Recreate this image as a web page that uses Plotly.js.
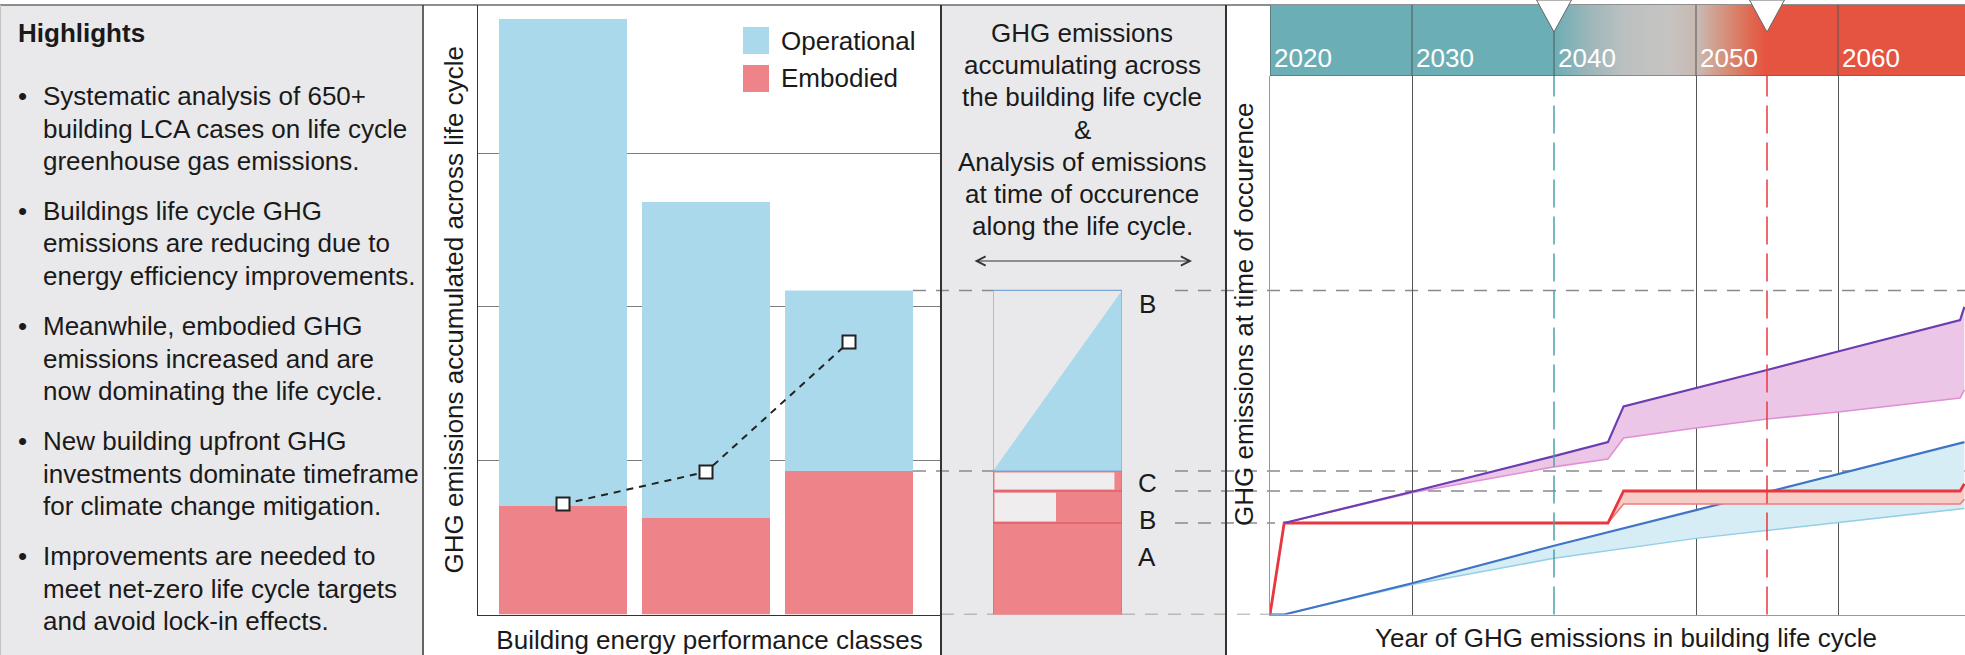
<!DOCTYPE html>
<html><head><meta charset="utf-8">
<script src="https://cdn.plot.ly/plotly-3.0.1.min.js"></script>
<style>html,body{margin:0;padding:0;background:#fff}#chart{width:1965px;height:655px}</style>
</head><body><div id="chart"></div>
<script>
// ---------------- DATA ----------------
// Panel 1: bars by building energy performance class
const classes = ['Class 1', 'Class 2', 'Class 3'];
const embodied = [0.705, 0.627, 0.933];
const operational = [3.167, 2.055, 1.174];
const embodiedTrend = [0.718, 0.927, 1.772];
const seriesNames = ['Operational', 'Embodied'];

// Panel 2: decomposition of the last class
const bandNames = ['A', 'B', 'C'];
const bandTop = [0.595, 0.803, 0.933];
const bandNotYetEmitted = [0, 0.5, 0.953];

// Panel 3: emissions at time of occurrence
const decades = [2020, 2030, 2040, 2050, 2060];
const decadeLabels = ['2020', '2030', '2040', '2050', '2060'];
const milestones = [2040, 2055];

const opYears = [2020, 2021, 2030, 2040, 2050, 2060, 2068.9];
const opUpper = [0, 0, 0.203, 0.447, 0.679, 0.911, 1.121];
const opLower = [0, 0, 0.195, 0.365, 0.495, 0.600, 0.690];

const embYears = [2020, 2021, 2043.8, 2044.9, 2068.6, 2068.9];
const embUpper = [0, 0.595, 0.595, 0.803, 0.803, 0.850];
const embLower = [0, 0.595, 0.595, 0.718, 0.718, 0.750];

const totYears = [2021, 2030, 2040, 2043.8, 2044.9, 2050, 2055, 2060, 2068.6, 2068.9];
const totUpper = [0.595, 0.798, 1.030, 1.121, 1.353, 1.471, 1.590, 1.710, 1.915, 2.000];
const totLower = [0.595, 0.792, 0.960, 1.011, 1.148, 1.213, 1.271, 1.317, 1.408, 1.460];

// Texts
const highlightsTitle = 'Highlights';
const highlights = [
  ['Systematic analysis of 650+', 'building LCA cases on life cycle', 'greenhouse gas emissions.'],
  ['Buildings life cycle GHG', 'emissions are reducing due to', 'energy efficiency improvements.'],
  ['Meanwhile, embodied GHG', 'emissions increased and are', 'now dominating the life cycle.'],
  ['New building upfront GHG', 'investments dominate timeframe', 'for climate change mitigation.'],
  ['Improvements are needed to', 'meet net-zero life cycle targets', 'and avoid lock-in effects.']
];
const midText = ['GHG emissions', 'accumulating across', 'the building life cycle', '&amp;',
  'Analysis of emissions', 'at time of occurence', 'along the life cycle.'];
const stackLabels = ['B', 'C', 'B', 'A'];
const titleBars = 'Building energy performance classes';
const titleBarsY = 'GHG emissions accumulated across life cycle';
const titleTimeX = 'Year of GHG emissions in building life cycle';
const titleTimeY = 'GHG emissions at time of occurence';

// ---------------- LAYOUT HELPERS ----------------
const W = 1965, H = 655;
const fx = x => x / W;
const fy = y => 1 - y / H;
const FONT = 'Liberation Sans, Arial, Helvetica, sans-serif';
const TXT = '#1a1a1a';
const COL = {
  op: '#a9d9ea', emb: '#ee8489', embDark: '#e0606a', pale: '#efeded', panel: '#e9e9eb',
  blue: '#3f74c6', blueLight: '#92d0e6', blueFill: '#d7edf5',
  red: '#e8383e', redLight: '#f27a7d', redFill: '#f7cbc6',
  purple: '#6a3db0', pink: '#e08fd6', pinkFill: '#ecc6e6',
  teal: '#6caeb5', tealLine: '#4aa3ab', bandRed: '#e55440'
};
const Y_BOTTOM = 614.5, Y_TOP = 5, UNIT = 153.8, BAND_BOTTOM = 76;
const yRange = [0, (Y_BOTTOM - Y_TOP) / UNIT];
const yDomain = [fy(Y_BOTTOM), fy(Y_TOP)];
const PX_PER_YEAR = 14.2;
const xMax = 2020 + (W - 1270) / PX_PER_YEAR;
const BAND_H = BAND_BOTTOM - Y_TOP;          // band height in px -> 1 band unit
const BAND_AX_TOP = BAND_BOTTOM / BAND_H;     // page top in band units

const total = embodied.map((e, i) => e + operational[i]);
const last = classes.length - 1;
const bandBottom = bandTop.map((t, i) => i === 0 ? 0 : bandTop[i - 1]);
const bandMid = bandTop.map((t, i) => (t + bandBottom[i]) / 2);
const bandThick = bandTop.map((t, i) => t - bandBottom[i]);

// ---------------- TRACES ----------------
const traces = [];
const BARW = 128 / 143;
traces.push({type: 'bar', x: classes, y: embodied, name: seriesNames[1], width: BARW,
  marker: {color: COL.emb}, xaxis: 'x', yaxis: 'y', showlegend: false});
traces.push({type: 'bar', x: classes, y: operational, base: embodied, name: seriesNames[0], width: BARW,
  marker: {color: COL.op}, xaxis: 'x', yaxis: 'y', showlegend: false});
traces.push({type: 'scatter', mode: 'lines+markers', x: classes, y: embodiedTrend, xaxis: 'x', yaxis: 'y',
  line: {color: '#222', width: 2, dash: '7px,6px'},
  marker: {symbol: 'square', size: 13, color: '#fff', line: {color: '#222', width: 2}}, showlegend: false});

// middle stacked diagram
traces.push({type: 'bar', orientation: 'h', y: bandMid, x: bandTop.map(() => 1), base: 0, width: bandThick,
  marker: {color: COL.emb}, xaxis: 'x2', yaxis: 'y2', showlegend: false});
const pIdx = bandNotYetEmitted.map((v, i) => i).filter(i => bandNotYetEmitted[i] > 0);
traces.push({type: 'bar', orientation: 'h', y: pIdx.map(i => bandMid[i]), x: pIdx.map(i => bandNotYetEmitted[i]),
  base: 0, width: pIdx.map(i => bandThick[i]),
  marker: {color: COL.pale, line: {color: COL.emb, width: 3}}, xaxis: 'x2', yaxis: 'y2', showlegend: false});
traces.push({type: 'bar', orientation: 'h', y: bandMid, x: bandTop.map(() => 1), base: 0, width: bandThick,
  marker: {color: 'rgba(0,0,0,0)', line: {color: COL.embDark, width: 1}}, xaxis: 'x2', yaxis: 'y2', showlegend: false});
traces.push({type: 'scatter', mode: 'lines', x: [0, 1, 1, 0], y: [embodied[last], total[last], embodied[last], embodied[last]],
  fill: 'toself', fillcolor: COL.op, line: {width: 0}, xaxis: 'x2', yaxis: 'y2', showlegend: false});
traces.push({type: 'scatter', mode: 'lines', x: [0, 1, 1, 0, 0],
  y: [embodied[last], embodied[last], total[last], total[last], embodied[last]],
  line: {color: '#7aa6da', width: 1.2}, xaxis: 'x2', yaxis: 'y2', showlegend: false});

// right timeline
function line(x, y, color, width, fill, fillcolor) {
  const t = {type: 'scatter', mode: 'lines', x: x, y: y, line: {color: color, width: width},
    xaxis: 'x3', yaxis: 'y3', showlegend: false};
  if (fill) { t.fill = fill; t.fillcolor = fillcolor; }
  return t;
}
traces.push(line(opYears, opLower, COL.blueLight, 1.5));
traces.push(line(opYears, opUpper, COL.blue, 2.2, 'tonexty', COL.blueFill));
traces.push(line(embYears, embLower, COL.redLight, 1.6));
traces.push(line(embYears, embUpper, COL.red, 2.8, 'tonexty', COL.redFill));
traces.push(line(totYears, totLower, COL.pink, 1.6));
traces.push(line(totYears, totUpper, COL.purple, 2.2, 'tonexty', COL.pinkFill));

// band with gradient
const bandStops = [[2020, COL.teal], [2040, COL.teal], [2042.5, '#9db6ba'], [2045, '#bcc0c1'],
  [2048, '#c6c4c2'], [2050.2, '#c9b8b0'], [2052, '#d4927d'], [2053.8, '#df6a52'], [2054.9, COL.bandRed], [xMax, COL.bandRed]];
traces.push({type: 'scatter', mode: 'lines', x: [2020, xMax, xMax, 2020, 2020], y: [0, 0, 1, 1, 0],
  fill: 'toself', line: {width: 0},
  fillgradient: {type: 'horizontal', colorscale: bandStops.map(s => [(s[0] - 2020) / (xMax - 2020), s[1]])},
  xaxis: 'x4', yaxis: 'y4', showlegend: false, hoverinfo: 'skip'});
// decade separators inside the band (drawn before the pointers so pointers sit on top)
const sepX = [], sepY = [];
decades.forEach(d => { sepX.push(d, d, null); sepY.push(0, 1, null); });
sepX.push(2020, xMax); sepY.push(0, 0);
traces.push({type: 'scatter', mode: 'lines', x: sepX, y: sepY, connectgaps: false,
  line: {color: '#555', width: 1}, xaxis: 'x4', yaxis: 'y4', showlegend: false, hoverinfo: 'skip'});
// milestone pointers (white triangles pointing down into the band)
const TIP = (BAND_BOTTOM - 32) / BAND_H;
const HALF_AT_TOP = 17.5 / PX_PER_YEAR;
milestones.forEach(m => traces.push({type: 'scatter', mode: 'lines',
  x: [m - HALF_AT_TOP, m + HALF_AT_TOP, m, m - HALF_AT_TOP], y: [BAND_AX_TOP, BAND_AX_TOP, TIP, BAND_AX_TOP],
  fill: 'toself', fillcolor: '#fff', line: {color: '#666', width: 1},
  xaxis: 'x4', yaxis: 'y4', showlegend: false, hoverinfo: 'skip'}));

// ---------------- SHAPES ----------------
const shapes = [];
shapes.push({type: 'rect', xref: 'paper', yref: 'paper', x0: 0, x1: fx(423), y0: 0, y1: fy(Y_TOP),
  fillcolor: COL.panel, line: {width: 0}, layer: 'below'});
shapes.push({type: 'rect', xref: 'paper', yref: 'paper', x0: fx(941), x1: fx(1226), y0: 0, y1: fy(Y_TOP),
  fillcolor: COL.panel, line: {width: 0}, layer: 'below'});
shapes.push({type: 'line', xref: 'paper', yref: 'paper', x0: 0, x1: 1, y0: fy(Y_TOP), y1: fy(Y_TOP),
  line: {color: '#6a6a6a', width: 1.5}, layer: 'below'});
// dashed connectors across panels (values from data)
const dash = {color: '#8a8a8a', width: 1.6, dash: '13px,10px'};
const conn = [
  [total[last], [[913, 993], [1175, W]]],
  [embodied[last], [[913, 993], [1175, W]]],
  [bandTop[1], [[1175, 1612]]],
  [bandTop[0], [[1175, 1275]]],
  [0, [[941, 993], [1122, 1270]]]
];
conn.forEach(c => c[1].forEach(seg => shapes.push({type: 'line', xref: 'paper', yref: 'y',
  x0: fx(seg[0]), x1: fx(seg[1]), y0: c[0], y1: c[0], line: dash, layer: 'below'})));
// panel borders
shapes.push({type: 'line', xref: 'paper', yref: 'paper', x0: fx(0.5), x1: fx(0.5), y0: 0, y1: fy(Y_TOP), line: {color: '#c4c4c4', width: 1}});
[[423, 1.5], [941, 2], [1226, 2]].forEach(b => shapes.push({type: 'line', xref: 'paper', yref: 'paper',
  x0: fx(b[0]), x1: fx(b[0]), y0: 0, y1: fy(Y_TOP), line: {color: '#333', width: b[1]}}));
// legend swatches
[[27, COL.op], [65, COL.emb]].forEach(s => shapes.push({type: 'rect', xref: 'paper', yref: 'paper',
  x0: fx(743), x1: fx(769), y0: fy(s[0] + 27), y1: fy(s[0]), fillcolor: s[1], line: {width: 0}}));
// milestone lines
const msColors = [COL.tealLine, COL.red];
milestones.forEach((m, i) => shapes.push({type: 'line', xref: 'x3', yref: 'y3 domain', x0: m, x1: m, y0: 0, y1: 1,
  line: {color: msColors[i], width: 1.5, dash: '28px,9px'}, layer: 'above'}));

// ---------------- ANNOTATIONS ----------------
const ann = [];
const A = (text, x, y, o) => ann.push(Object.assign({text: text, x: fx(x), y: fy(y), xref: 'paper', yref: 'paper',
  showarrow: false, xanchor: 'left', yanchor: 'middle', font: {size: 26, color: TXT, family: FONT}}, o || {}));
A('<b>' + highlightsTitle + '</b>', 16, 33);
let yy = 96;
highlights.forEach(g => {
  A('•', 22, yy, {xanchor: 'center'});
  g.forEach((l, i) => A(l, 41, yy + i * 32.5));
  yy += g.length * 32.5 + 17.5;
});
midText.forEach((l, i) => A(l, 1082, 33 + i * 32.2, {xanchor: 'center'}));
[[304], [483], [520], [557]].forEach((p, i) => A(stackLabels[i], 1147, p[0], {xanchor: 'center'}));
A(seriesNames[0], 779, 41);
A(seriesNames[1], 779, 78);
A(titleTimeY, 1244, 315, {xanchor: 'center', textangle: -90});
A(titleTimeX, 1626, 638, {xanchor: 'center'});
ann.push({text: '', x: fx(1192), y: fy(261), xref: 'paper', yref: 'paper', ax: -219, ay: 0,
  showarrow: true, arrowside: 'end+start', arrowhead: 5, startarrowhead: 5, arrowsize: 1.5, startarrowsize: 1.5,
  arrowwidth: 1.2, arrowcolor: '#333', standoff: 0, startstandoff: 0});
decades.forEach((d, i) => ann.push({text: decadeLabels[i], x: d, y: (BAND_BOTTOM - 58) / BAND_H, xref: 'x4', yref: 'y4',
  xanchor: 'left', yanchor: 'middle', xshift: 2, showarrow: false, font: {size: 26, color: '#fff', family: FONT}}));

// ---------------- AXES ----------------
const hidden = {showticklabels: false, ticks: '', zeroline: false, showgrid: false, fixedrange: true};
const layout = {
  width: W, height: H, margin: {l: 0, r: 0, t: 0, b: 0},
  paper_bgcolor: '#fff', plot_bgcolor: 'rgba(0,0,0,0)',
  font: {family: FONT, size: 26, color: TXT},
  barmode: 'overlay', showlegend: false,
  xaxis: Object.assign({}, hidden, {domain: [fx(478), fx(941)], range: [-(563 - 478) / 143, -(563 - 478) / 143 + 463 / 143],
    type: 'category', anchor: 'y', showline: true, linecolor: '#333', linewidth: 1.5,
    title: {text: titleBars, font: {size: 26, color: TXT}, standoff: 16}}),
  yaxis: Object.assign({}, hidden, {domain: yDomain, range: yRange, anchor: 'x', tickvals: [1, 2, 3],
    showgrid: true, gridcolor: '#7c7c7c', gridwidth: 1, showline: true, linecolor: '#333', linewidth: 1.5,
    title: {text: titleBarsY, font: {size: 26, color: TXT}, standoff: 5}}),
  xaxis2: Object.assign({}, hidden, {domain: [fx(993), fx(1122)], range: [0, 1], anchor: 'y2', visible: false}),
  yaxis2: Object.assign({}, hidden, {domain: yDomain, range: yRange, anchor: 'x2', visible: false}),
  xaxis3: Object.assign({}, hidden, {domain: [fx(1270), 1], range: [2020, xMax], anchor: 'y3',
    tickvals: decades.filter(d => milestones.indexOf(d) < 0 && d !== 2020), showgrid: true, gridcolor: '#555', gridwidth: 1,
    showline: true, linecolor: '#999', linewidth: 1.5}),
  yaxis3: Object.assign({}, hidden, {domain: [fy(Y_BOTTOM), fy(BAND_BOTTOM)], range: [0, (Y_BOTTOM - BAND_BOTTOM) / UNIT],
    anchor: 'x3', showline: true, linecolor: '#999', linewidth: 1.5}),
  xaxis4: Object.assign({}, hidden, {domain: [fx(1270), 1], range: [2020, xMax], anchor: 'y4', visible: false}),
  yaxis4: Object.assign({}, hidden, {domain: [fy(BAND_BOTTOM), 1], range: [0, BAND_AX_TOP], anchor: 'x4', visible: false}),
  shapes: shapes, annotations: ann
};
Plotly.newPlot('chart', traces, layout, {displayModeBar: false, staticPlot: true});
</script></body></html>
